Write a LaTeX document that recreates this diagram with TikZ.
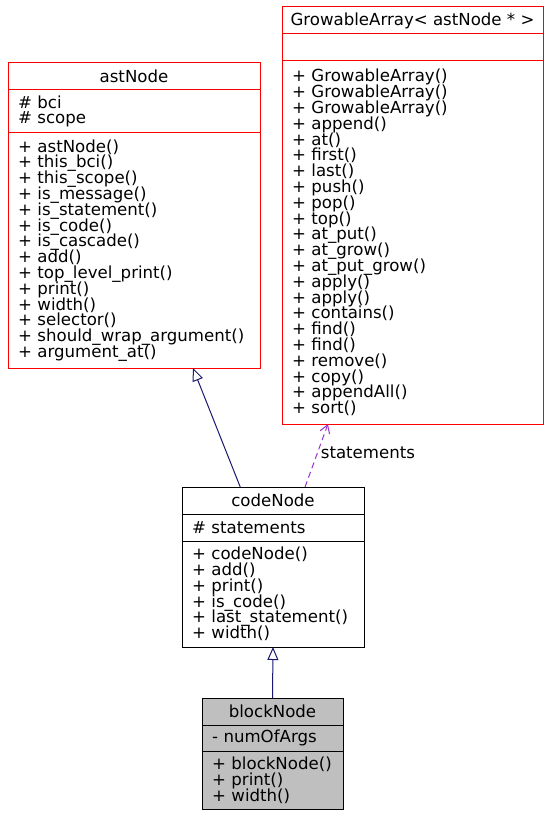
\documentclass[tikz,border=0pt]{standalone}
\usepackage{fontspec}
\newfontfamily\umlfont{DejaVu Sans}
\usetikzlibrary{arrows.meta, positioning, calc}
\definecolor{inheritblue}{HTML}{191970}
\definecolor{usepurple}{HTML}{9A32CD}
\definecolor{focusgray}{HTML}{BFBFBF}

\begin{document}
\begin{tikzpicture}[
    x=1pt, y=-1pt,
    font={\umlfont\fontsize{16.6}{15.8}\selectfont\lineskiplimit=-20pt},
    part/.style={
        draw=red,
        rectangle,
        line width=1pt,
        outer sep=0pt,
        inner xsep=10pt,
        inner ysep=0pt,
        align=left
    },
    head/.style={
        part,
        anchor=north,
        align=center,
        inner xsep=0pt,
        minimum height=27pt
    },
    inherit/.style={
        -{Triangle[open, length=13pt, width=11pt]},
        line width=1pt,
        draw=inheritblue
    },
    uses/.style={
        -{Straight Barb[length=8pt, width=10pt]},
        line width=1pt,
        draw=usepurple,
        dash pattern=on 6pt off 4pt
    },
    label/.style={
        inner sep=3pt
    }
]
\useasboundingbox (0,0) rectangle (551,818);

% ============================================================
% astNode
% ============================================================

\node[head, minimum width=252pt] (ast) at (134,63) {astNode};
\node[part, text width=232pt, minimum height=43pt, below=0pt of ast] (astattr)
    {\# bci\\\# scope};
\node[part, text width=232pt, minimum height=235pt, below=0pt of astattr] (astop)
    {+ astNode()\\+ this\_bci()\\+ this\_scope()\\+ is\_message()\\
     + is\_statement()\\+ is\_code()\\+ is\_cascade()\\+ add()\\
     + top\_level\_print()\\+ print()\\+ width()\\+ selector()\\
     + should\_wrap\_argument()\\+ argument\_at()};

% ============================================================
% GrowableArray< astNode * >
% ============================================================

\node[head, minimum width=261pt] (arr) at (412.5,7) {GrowableArray< astNode * >};
\node[part, text width=241pt, minimum height=27pt, below=0pt of arr] (arrattr) {};
\node[part, text width=241pt, minimum height=363pt, below=0pt of arrattr] (arrop)
    {+ GrowableArray()\\+ GrowableArray()\\+ GrowableArray()\\+ append()\\
     + at()\\+ first()\\+ last()\\+ push()\\+ pop()\\+ top()\\
     + at\_put()\\+ at\_grow()\\+ at\_put\_grow()\\+ apply()\\+ apply()\\
     + contains()\\+ find()\\+ find()\\+ remove()\\+ copy()\\
     + appendAll()\\+ sort()};

% ============================================================
% codeNode
% ============================================================

\node[head, draw=black, minimum width=182pt] (code) at (273,487) {codeNode};
\node[part, draw=black, text width=162pt, minimum height=27pt, below=0pt of code] (codeattr)
    {\# statements};
\node[part, draw=black, text width=162pt, minimum height=106pt, below=0pt of codeattr] (codeop)
    {+ codeNode()\\+ add()\\+ print()\\+ is\_code()\\
     + last\_statement()\\+ width()};

% ============================================================
% blockNode
% ============================================================

\node[head, draw=black, fill=focusgray, minimum width=141pt] (block) at (272.5,698) {blockNode};
\node[part, draw=black, fill=focusgray, text width=121pt, minimum height=26pt, below=0pt of block] (blockattr)
    {- numOfArgs};
\node[part, draw=black, fill=focusgray, text width=121pt, minimum height=58pt, below=0pt of blockattr] (blockop)
    {+ blockNode()\\+ print()\\+ width()};

% ============================================================
% Relations
% ============================================================

\draw[inherit] ($(code.north west)!0.32!(code.north east)$)
    -- ($(astop.south west)!0.734!(astop.south east)$);
\draw[inherit] (block.north) -- (codeop.south);

\draw[uses] ($(code.north west)!0.676!(code.north east)$)
    -- node[label, right, pos=0.54] {statements}
    ($(arrop.south west)!0.176!(arrop.south east)$);
\end{tikzpicture}
\end{document}
